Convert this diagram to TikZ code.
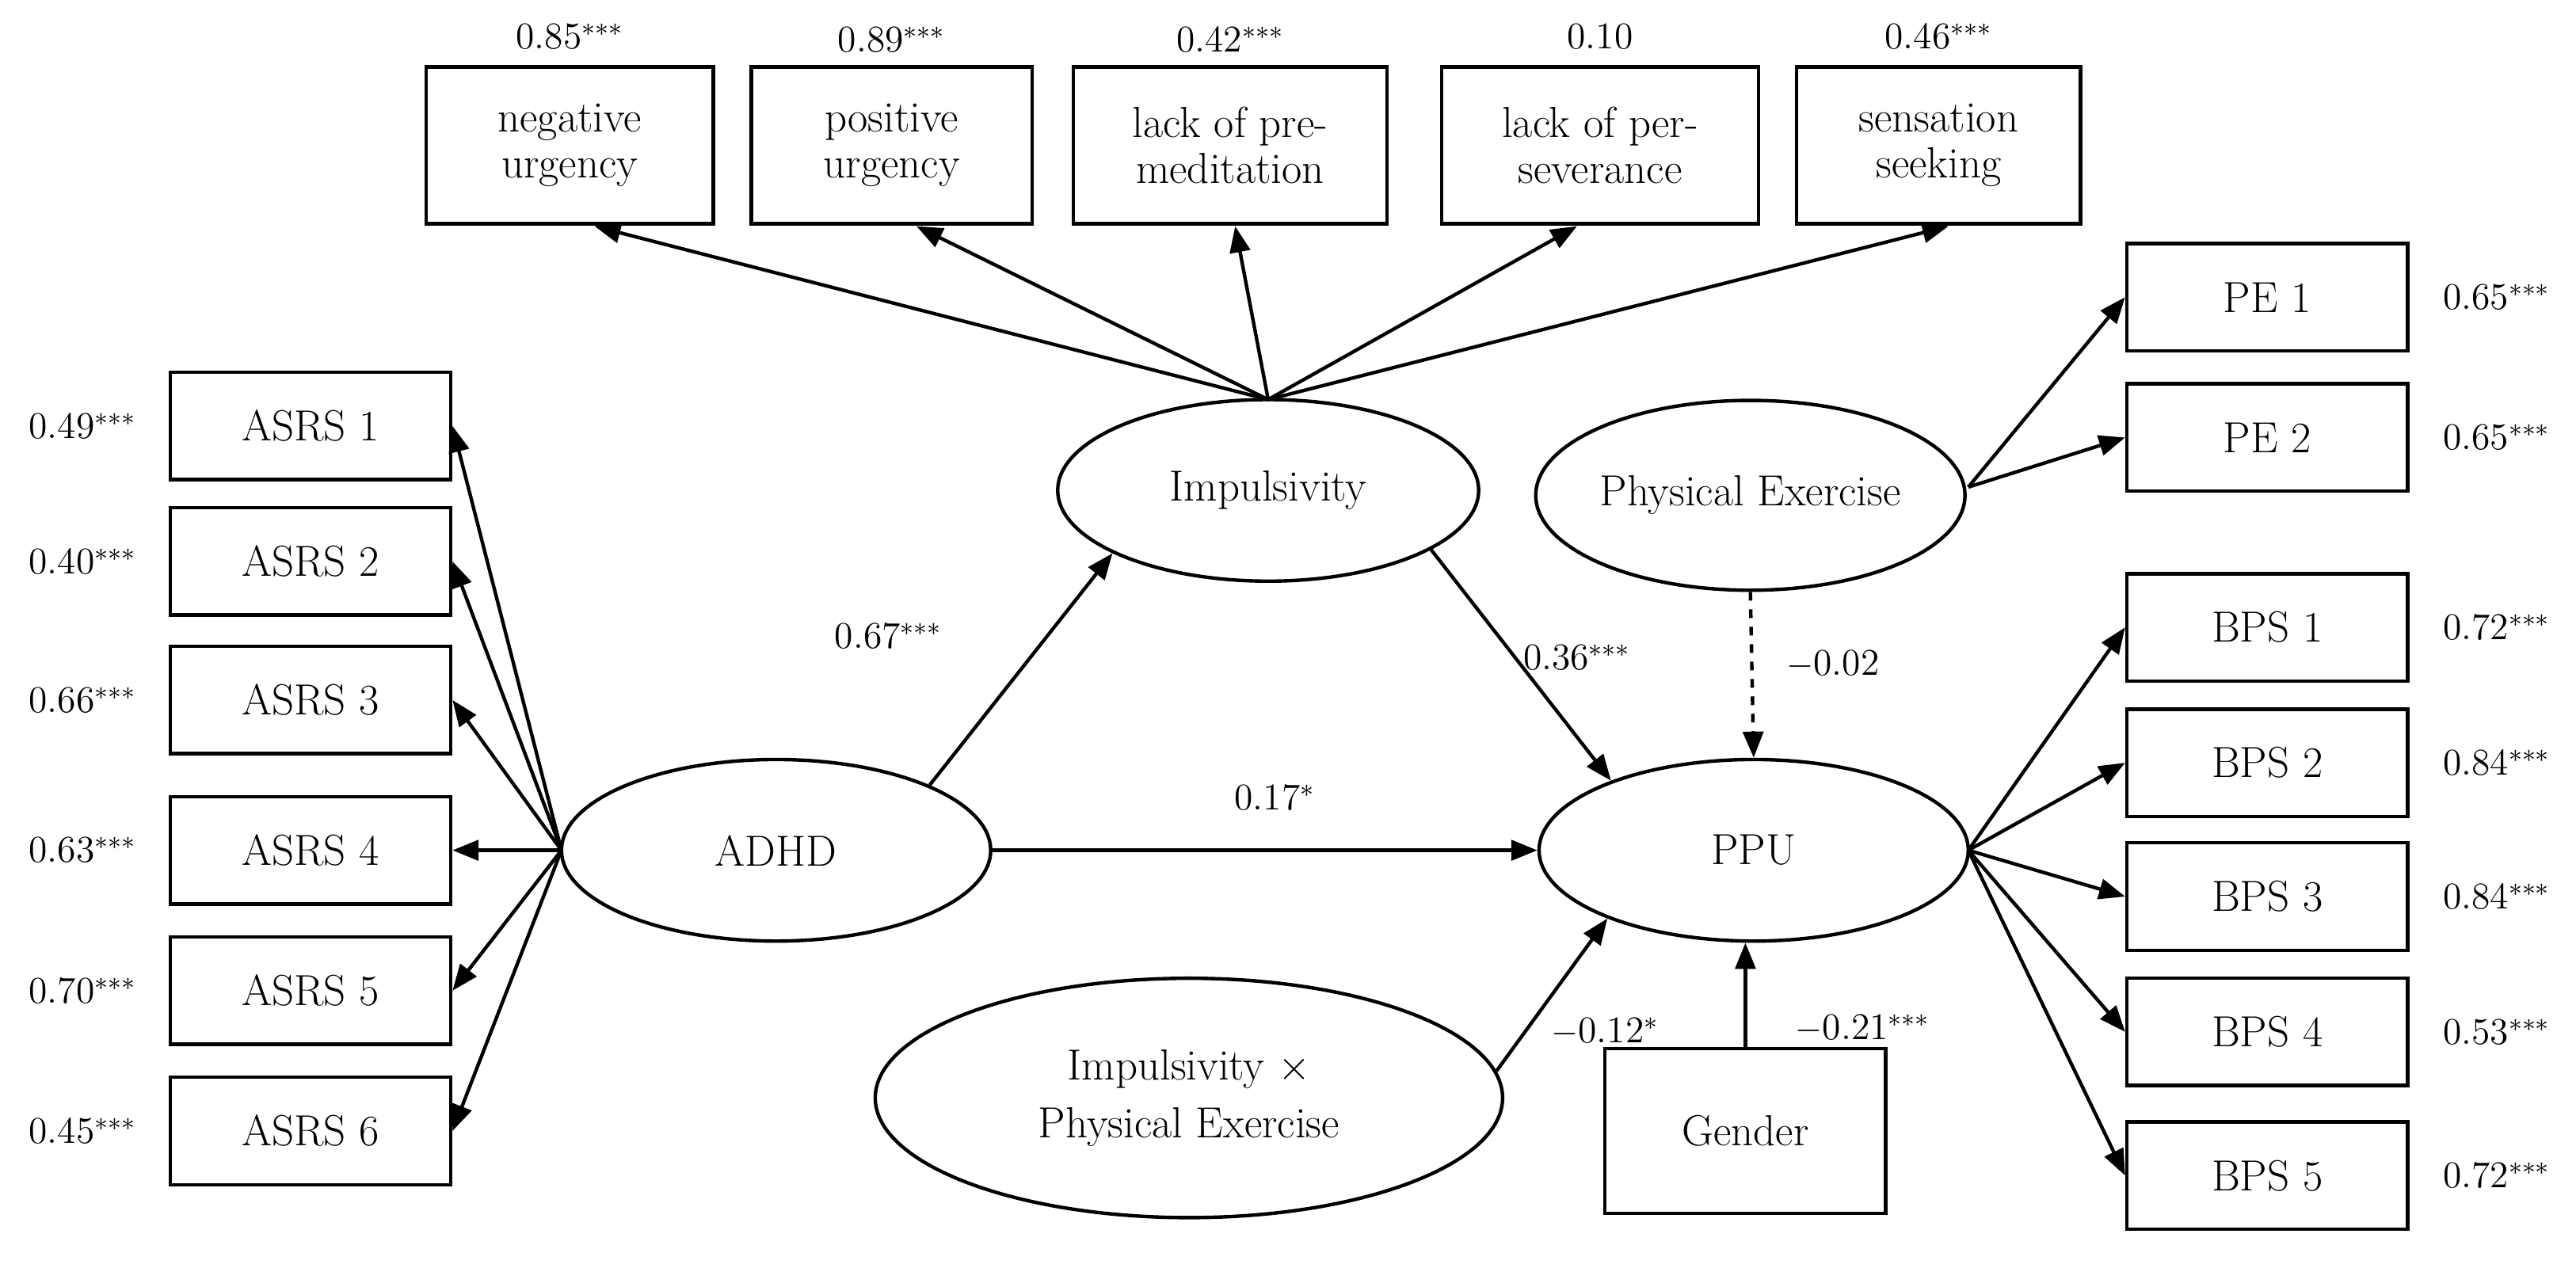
\documentclass[tikz,border=0pt]{standalone}
\usetikzlibrary{arrows.meta,shapes.geometric}
\begin{document}
\begin{tikzpicture}[x=0.02cm,y=-0.02cm,
 box/.style={draw,line width=1.2pt,minimum width=3.4cm,minimum height=1.3cm,align=center,font=\fontsize{15}{16}\selectfont,inner sep=1pt},
 tbox/.style={box,minimum height=1.9cm},
 ell/.style={draw,ellipse,line width=1.2pt,font=\fontsize{15}{16}\selectfont,align=center,inner sep=0pt},
 ar/.style={line width=1.2pt,-{Triangle[length=9pt,width=7pt]}},
 lab/.style={font=\fontsize{13}{14}\selectfont}]
\useasboundingbox (0,0) rectangle (1560,768);
% top boxes
\node[tbox,minimum width=3.48cm] (nu) at (345,88) {negative\\urgency};
\node[tbox] (pu) at (540,88) {positive\\urgency};
\node[tbox,minimum width=3.8cm] (lp) at (745,88) {lack of pre-\\meditation};
\node[tbox,minimum width=3.84cm] (ls) at (969,88) {lack of per-\\severance};
\node[tbox,minimum width=3.44cm] (ss) at (1174,88) {sensation\\seeking};
\node[lab] at (345,22) {0.85$^{***}$};
\node[lab] at (540,24) {0.89$^{***}$};
\node[lab] at (745,24) {0.42$^{***}$};
\node[lab] at (969,22) {0.10};
\node[lab] at (1174,22) {0.46$^{***}$};
% ASRS
\foreach \i/\y/\v in {1/258/0.49,2/340/0.40,3/424/0.66,4/515/0.63,5/600/0.70,6/685/0.45}{
 \node[box] (a\i) at (188,\y) {ASRS \i};
 \node[lab] at (50,\y) {\v$^{***}$};}
% ellipses
\node[ell,minimum width=5.2cm,minimum height=2.2cm] (adhd) at (470,515) {ADHD};
\node[ell,minimum width=5.1cm,minimum height=2.2cm] (imp) at (768,297) {Impulsivity};
\node[ell,minimum width=5.2cm,minimum height=2.3cm] (pe) at (1060,300) {Physical Exercise};
\node[ell,minimum width=5.2cm,minimum height=2.2cm] (ppu) at (1062,515) {PPU};
\node[ell,minimum width=7.6cm,minimum height=2.9cm] (int) at (720,665) {Impulsivity $\times$\\[4pt]Physical Exercise};
\node[box,minimum height=2cm] (g) at (1057,685) {Gender};
% right boxes
\node[box] (pe1) at (1373,180) {PE 1};
\node[box] (pe2) at (1373,265) {PE 2};
\node[lab] at (1512,180) {0.65$^{***}$};
\node[lab] at (1512,265) {0.65$^{***}$};
\foreach \i/\y/\v in {1/380/0.72,2/462/0.84,3/543/0.84,4/625/0.53,5/712/0.72}{
 \node[box] (b\i) at (1373,\y) {BPS \i};
 \node[lab] at (1512,\y) {\v$^{***}$};}
% arrows
\coordinate (aw) at (340,515);
\foreach \i in {1,...,6} \draw[ar] (aw) -- (a\i.east);
\coordinate (it) at (768,242);
\draw[ar] (it) -- (360,137);
\draw[ar] (it) -- (555,137);
\draw[ar] (it) -- (748,137);
\draw[ar] (it) -- (955,137);
\draw[ar] (it) -- (1180,137);
\draw[ar] (adhd.23) -- (imp.202);
\draw[ar] (imp.-20) -- (ppu.154);
\draw[ar] (adhd.east) -- (ppu.west);
\draw[ar,dashed] (pe.south) -- (ppu.north);
\draw[ar] (int.5) -- (ppu.205);
\draw[ar] (g.north) -- (g.north |- ppu.south);
\coordinate (pee) at (1192,295);
\draw[ar] (pee) -- (pe1.west);
\draw[ar] (pee) -- (pe2.west);
\coordinate (pp) at (1192,515);
\foreach \i in {1,...,5} \draw[ar] (pp) -- (b\i.west);
% labels
\node[lab] at (538,385) {0.67$^{***}$};
\node[lab] at (955,398) {0.36$^{***}$};
\node[lab] at (772,483) {0.17$^{*}$};
\node[lab] at (1110,402) {$-$0.02};
\node[lab] at (972,625) {$-$0.12$^{*}$};
\node[lab] at (1128,623) {$-$0.21$^{***}$};
\end{tikzpicture}
\end{document}
